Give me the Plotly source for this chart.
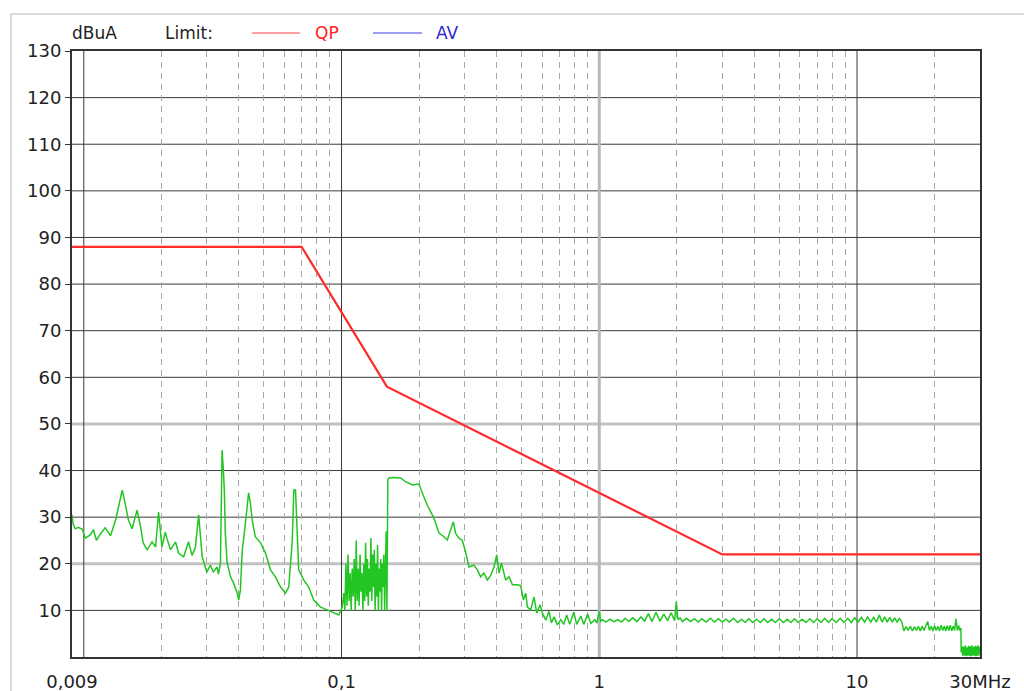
import numpy as np
import plotly.graph_objects as go

# ---------------- data ----------------
# QP limit line (MHz, dBuA)
qp_freq = [0.009, 0.07, 0.15, 3.0, 30.0]
qp_level = [88, 88, 58, 22, 22]

# measured trace, 9 kHz .. 0.1 MHz
f_a = [0.0090, 0.00909, 0.00927, 0.00952, 0.00987, 0.01013, 0.0106, 0.0109, 0.0112, 0.0116,
       0.0121, 0.0127, 0.0133, 0.0136, 0.0141, 0.0144, 0.0149, 0.0154, 0.0161, 0.0166,
       0.0170, 0.0176, 0.0184, 0.0190, 0.0195, 0.0201, 0.0207, 0.0210, 0.0217, 0.0227,
       0.0233, 0.0244, 0.0255, 0.0263, 0.0271, 0.0279, 0.0288, 0.0296, 0.0300, 0.0310,
       0.0318, 0.0329, 0.0333, 0.0339, 0.0344, 0.0348, 0.0351, 0.0354, 0.0360, 0.0371,
       0.0381, 0.0394, 0.0399, 0.0405, 0.0412, 0.0418, 0.0430, 0.0436, 0.0443, 0.0450,
       0.0463, 0.0485, 0.0507, 0.0530, 0.0554, 0.0580, 0.0606, 0.0624, 0.0644, 0.0653,
       0.0663, 0.0673, 0.0682, 0.0714, 0.0746, 0.0780, 0.0829, 0.0880, 0.0934, 0.0976]
l_a = [30.5, 28.5, 27.5, 27.8, 27.4, 25.5, 26.2, 27.3, 25.0, 26.4,
       27.7, 26.0, 29.5, 32.0, 35.8, 33.5, 29.4, 27.5, 31.5, 28.0,
       24.5, 23.0, 24.7, 23.6, 31.1, 23.6, 26.8, 25.5, 23.0, 24.7,
       22.3, 21.5, 24.7, 21.8, 23.5, 30.5, 21.5, 19.3, 18.2, 19.7,
       18.2, 19.3, 17.8, 20.2, 44.4, 40.0, 35.8, 26.6, 20.2, 17.2,
       15.9, 13.7, 12.2, 14.3, 23.0, 25.8, 32.2, 35.2, 33.0, 29.4,
       25.8, 24.5, 22.3, 18.7, 17.2, 15.0, 13.7, 15.0, 25.1, 35.8,
       35.8, 25.0, 18.7, 16.5, 15.0, 12.2, 10.7, 10.1, 9.4, 9.0]

# 0.1 .. 0.15 MHz (dense noisy part)
f_b = [0.1006, 0.1021, 0.103, 0.104, 0.105, 0.106, 0.107, 0.108, 0.109, 0.110,
       0.111, 0.112, 0.113, 0.114, 0.115, 0.116, 0.117, 0.118, 0.119, 0.120,
       0.121, 0.122, 0.123, 0.124, 0.125, 0.126, 0.127, 0.128, 0.129, 0.130,
       0.131, 0.132, 0.133, 0.134, 0.135, 0.136, 0.137, 0.138, 0.139, 0.140,
       0.141, 0.142, 0.143, 0.144, 0.145, 0.146, 0.147, 0.148, 0.149, 0.1500, 0.1512]
l_b = [10.7, 13.7, 10, 20, 11, 22, 12, 18, 10, 19,
       13, 21, 10, 25, 12, 19, 11, 22, 14, 18,
       10, 20, 12, 24.5, 13, 21, 11, 19, 14, 25.5,
       12, 22, 15, 23, 10, 20, 13, 24, 10, 19,
       14, 21, 10, 20, 15, 22, 10, 21, 27, 10, 38.0]

# 0.15 .. 1 MHz
f_c = [0.1526, 0.158, 0.1695, 0.1772, 0.1882, 0.1955, 0.1996, 0.2058, 0.2151, 0.2283,
       0.2387, 0.2496, 0.2573, 0.2651, 0.2716, 0.2771, 0.2854, 0.2942, 0.3030, 0.3122,
       0.3265, 0.3365, 0.3467, 0.3569, 0.368, 0.379, 0.3904, 0.400, 0.4082, 0.4171,
       0.4246, 0.4335, 0.4464, 0.4602, 0.4811, 0.4955, 0.5077, 0.5183, 0.5262, 0.542,
       0.5582, 0.5718, 0.589, 0.6018, 0.6198, 0.6383, 0.652, 0.6674, 0.688, 0.7088,
       0.728, 0.7475, 0.768, 0.796, 0.8177, 0.8475, 0.8705, 0.902, 0.927, 0.960,
       0.978, 1.0, 1.013]
l_c = [38.4, 38.5, 38.4, 37.6, 36.9, 37.0, 37.1, 35.2, 32.6, 29.8,
       26.6, 25.8, 25.1, 27.3, 29.0, 26.5, 25.5, 25.0, 22.5, 19.3,
       19.7, 18.7, 17.2, 18.0, 16.5, 17.5, 19.3, 21.9, 18.0, 20.2,
       18.7, 16.5, 17.2, 15.5, 15.5, 15.3, 12.2, 13.7, 10.7, 10.1,
       12.9, 9.4, 11.2, 9.4, 7.9, 9.8, 7.3, 8.6, 6.9, 8.0,
       7.0, 9.0, 7.0, 9.6, 7.0, 8.8, 7.0, 9.2, 7.2, 8.0,
       7.3, 9.8, 7.7]

# 1 .. 15 MHz
f_d = [1.03, 1.06, 1.10, 1.14, 1.18, 1.22, 1.26, 1.30, 1.35, 1.40,
       1.45, 1.50, 1.55, 1.60, 1.66, 1.72, 1.78, 1.84, 1.90, 1.96,
       1.99, 2.02, 2.06, 2.10, 2.18, 2.26, 2.34, 2.42, 2.50, 2.60,
       2.70, 2.80, 2.90, 3.00, 3.10, 3.20, 3.32, 3.44, 3.56, 3.68,
       3.80, 3.94, 4.08, 4.22, 4.36, 4.50, 4.66, 4.82, 5.00, 5.18,
       5.36, 5.54, 5.72, 5.92, 6.12, 6.34, 6.56, 6.78, 7.00, 7.25,
       7.50, 7.75, 8.00, 8.30, 8.60, 8.90, 9.20, 9.50, 9.80, 10.1,
       10.4, 10.7, 11.0, 11.3, 11.6, 11.9, 12.2, 12.5, 12.8, 13.1,
       13.4, 13.7, 14.0, 14.3, 14.6, 14.9, 15.05]
l_d = [8.0, 7.5, 8.1, 7.6, 8.0, 7.5, 8.3, 7.6, 8.4, 7.6,
       8.6, 7.7, 9.3, 7.6, 9.6, 7.7, 9.2, 7.8, 9.5, 7.8,
       11.9, 8.0, 8.4, 7.6, 8.3, 7.6, 8.2, 7.5, 8.2, 7.5,
       8.3, 7.5, 8.2, 7.5, 8.1, 7.5, 8.3, 7.4, 8.1, 7.4,
       8.2, 7.4, 8.1, 7.4, 8.2, 7.4, 8.1, 7.4, 8.2, 7.4,
       8.1, 7.4, 8.2, 7.4, 8.1, 7.4, 8.2, 7.4, 8.2, 7.4,
       8.3, 7.4, 8.2, 7.4, 8.3, 7.4, 8.3, 7.4, 8.4, 7.5,
       8.5, 7.5, 8.6, 7.5, 8.5, 7.5, 9.0, 7.5, 8.6, 7.5,
       8.5, 7.5, 8.4, 7.5, 8.3, 7.6, 6.6]

# 15 .. 30 MHz
f_e = [15.2, 15.5, 15.8, 16.1, 16.4, 16.7, 17.0, 17.3, 17.6, 17.9,
       18.2, 18.5, 18.8, 19.1, 19.4, 19.7, 20.0, 20.3, 20.6, 20.9,
       21.2, 21.5, 21.8, 22.1, 22.4, 22.7, 23.0, 23.3, 23.6, 23.9,
       24.2, 24.5, 24.8, 25.1, 25.3, 25.35, 25.5, 25.7, 25.9, 26.1,
       26.3, 26.5, 26.7, 26.9, 27.1, 27.3, 27.5, 27.7, 27.9, 28.1,
       28.3, 28.5, 28.7, 28.9, 29.1, 29.3, 29.5, 29.7, 29.9, 30.0]
l_e = [5.6, 6.5, 5.7, 6.6, 5.6, 6.5, 5.7, 6.6, 5.6, 6.6,
       5.7, 6.7, 7.6, 5.7, 6.6, 5.6, 6.7, 5.7, 6.6, 5.6,
       6.8, 5.7, 6.6, 5.6, 6.7, 5.7, 6.8, 5.6, 6.6, 5.7,
       8.2, 5.7, 6.7, 5.6, 6.2, 1.0, 2.4, 0.3, 2.2, 0.3,
       2.5, 0.2, 2.1, 0.3, 2.4, 0.3, 2.3, 0.2, 2.5, 0.3,
       2.2, 0.3, 2.4, 0.2, 2.3, 0.3, 2.5, 0.3, 2.2, 1.0]

meas_freq = f_a + f_b + f_c + f_d + f_e
meas_level = l_a + l_b + l_c + l_d + l_e

x_tickvals = [0.009, 0.1, 1, 10, 30]
x_ticktext = ["0,009", "0,1", "1", "10", "30MHz"]
x_grid_dark = [0.01, 0.1, 10]
x_grid_light = [1]
x_minor = [0.02, 0.03, 0.04, 0.05, 0.06, 0.07, 0.08, 0.09,
           0.2, 0.3, 0.4, 0.5, 0.6, 0.7, 0.8, 0.9,
           2, 3, 4, 5, 6, 7, 8, 9, 20]
y_tickvals = [10, 20, 30, 40, 50, 60, 70, 80, 90, 100, 110, 120, 130]
y_grid_dark = [10, 30, 40, 60, 70, 80, 90, 100, 110, 120]
y_grid_light = [20, 50]

# ---------------- figure ----------------
FONT = "DejaVu Sans"
TXT = "#222222"

fig = go.Figure()
fig.add_trace(go.Scatter(x=meas_freq, y=meas_level, mode="lines",
                         line=dict(color="#22c622", width=1.5), showlegend=False,
                         hoverinfo="skip"))
fig.add_trace(go.Scatter(x=qp_freq, y=qp_level, mode="lines",
                         line=dict(color="#ff2a2a", width=2.2), showlegend=False,
                         hoverinfo="skip"))

fig.update_layout(
    width=1024, height=691,
    margin=dict(l=72, r=44, t=51, b=34, pad=0, autoexpand=False),
    paper_bgcolor="white", plot_bgcolor="white",
    font=dict(family=FONT, size=18, color=TXT),
    showlegend=False,
)

eps = 1e-6
fig.update_xaxes(
    type="log", automargin=False,
    range=[np.log10(0.009) - eps, np.log10(30) + eps],
    tickmode="array", tickvals=x_tickvals, ticktext=x_ticktext,
    ticks="", showgrid=False, ticklabelstandoff=7,
    showline=True, linecolor="#333333", linewidth=2, mirror=True,
    zeroline=False,
    minor=dict(tickvals=x_minor, showgrid=True, gridcolor="#a8a8a8",
               griddash="6px,5px", gridwidth=1, ticks=""),
    tickfont=dict(family=FONT, size=18, color=TXT),
)
fig.update_yaxes(
    range=[0, 130], automargin=False,
    tickmode="array", tickvals=y_tickvals,
    ticks="outside", ticklen=5, tickcolor="#333333",
    showgrid=False,
    showline=True, linecolor="#333333", linewidth=2, mirror=True,
    zeroline=False,
    tickfont=dict(family=FONT, size=18, color=TXT),
)

# grid lines
for yv in y_grid_dark:
    fig.add_shape(type="line", xref="paper", yref="y", x0=0, x1=1, y0=yv, y1=yv,
                  line=dict(color="#3a3a3a", width=1), layer="below")
for yv in y_grid_light:
    fig.add_shape(type="line", xref="paper", yref="y", x0=0, x1=1, y0=yv, y1=yv,
                  line=dict(color="#c2c2c2", width=3), layer="below")
for xv in x_grid_dark:
    fig.add_shape(type="line", xref="x", yref="paper", x0=xv, x1=xv, y0=0, y1=1,
                  line=dict(color="#3a3a3a", width=1), layer="below")
for xv in x_grid_light:
    fig.add_shape(type="line", xref="x", yref="paper", x0=xv, x1=xv, y0=0, y1=1,
                  line=dict(color="#b8b8b8", width=3), layer="below")

# outer frame
fig.add_shape(type="rect", xref="paper", yref="paper",
              x0=-0.0672, x1=1.08, y0=-0.12, y1=1.061,
              line=dict(color="#cfcfcf", width=1.5), layer="below")

# header / limit legend
hy = 1.0297
fig.add_annotation(xref="paper", yref="paper", x=-0.0022, y=hy, text="dBuA",
                   showarrow=False, xanchor="left", yanchor="middle",
                   font=dict(family=FONT, size=17, color=TXT))
fig.add_annotation(xref="paper", yref="paper", x=0.1002, y=hy, text="Limit:",
                   showarrow=False, xanchor="left", yanchor="middle",
                   font=dict(family=FONT, size=17, color=TXT))
fig.add_shape(type="line", xref="paper", yref="paper", x0=0.1982, x1=0.2511, y0=hy, y1=hy,
              line=dict(color="#ff4040", width=1.2))
fig.add_annotation(xref="paper", yref="paper", x=0.2654, y=hy, text="QP",
                   showarrow=False, xanchor="left", yanchor="middle",
                   font=dict(family=FONT, size=17, color="#ff2020"))
fig.add_shape(type="line", xref="paper", yref="paper", x0=0.3315, x1=0.3855, y0=hy, y1=hy,
              line=dict(color="#4040e0", width=1.2))
fig.add_annotation(xref="paper", yref="paper", x=0.3987, y=hy, text="AV",
                   showarrow=False, xanchor="left", yanchor="middle",
                   font=dict(family=FONT, size=17, color="#2a2ad0"))

fig.write_html("out.html")
